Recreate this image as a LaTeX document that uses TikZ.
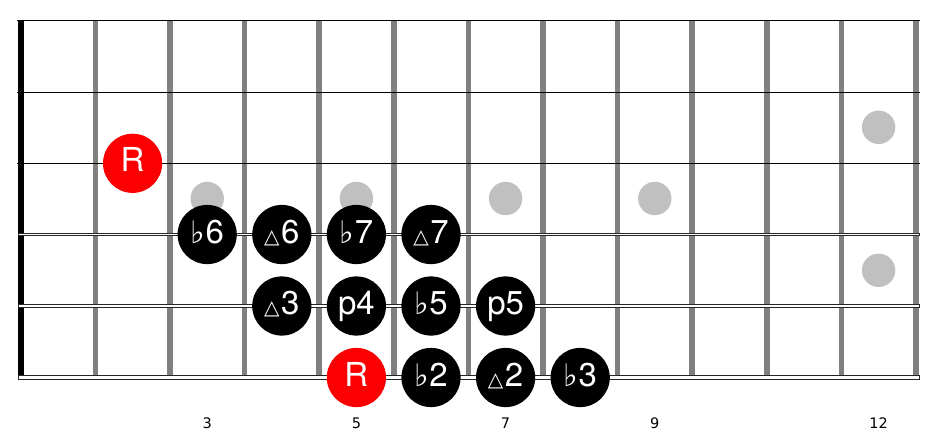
\documentclass[tikz,border=0pt]{standalone}
\usepackage{fontspec}
\setmainfont{TeX Gyre Heros}
\newfontfamily\symfont{DejaVu Sans}
\newcommand\fl{{\symfont\fontsize{31}{31}\selectfont ♭}\kern0.5pt}
\newcommand\tri{{\symfont\fontsize{20}{20}\selectfont △}\kern1.5pt}
\definecolor{fretgray}{RGB}{128,128,128}
\definecolor{dotgray}{RGB}{192,192,192}
\definecolor{rootred}{RGB}{250,0,0}
\tikzset{
  fretline/.style={draw=fretgray, line width=5.6pt},
  plainstring/.style={draw=black, line width=1.2pt},
  woundstring/.style={draw=black!85, fill=white, line width=0.9pt},
  inlay/.style={circle, fill=dotgray, minimum size=33.4pt, inner sep=0pt},
  note/.style={circle, fill=black, text=white, minimum size=59.2pt, inner sep=0pt,
    font=\fontsize{33}{33}\selectfont, text height=24pt, text depth=7pt},
  rootnote/.style={note, fill=rootred},
  fretnum/.style={font=\symfont\fontsize{14.5}{14.5}\selectfont, inner sep=0pt}
}
\begin{document}
\begin{tikzpicture}[x=1pt,y=-1pt]
\useasboundingbox (0,0) rectangle (936,444);
% frets
\foreach \xx in {95.3,169.9,244.5,319.1,393.7,468.3,542.9,617.5,692.1,766.7,841.3,915.9}
  \draw[fretline] (\xx,20.3) -- (\xx,375.5);
% nut
\fill[black] (18,20) rectangle (24,375.5);
% inlays
\node[inlay] (d3) at (207.2,198.5) {};
\node[inlay] (d5) at (356.4,198.5) {};
\node[inlay] (d7) at (505.6,198.5) {};
\node[inlay] (d9) at (654.8,198.5) {};
\node[inlay] (d12a) at (878.6,127.3) {};
\node[inlay] (d12b) at (878.6,270.3) {};
% strings
\draw[plainstring] (17.4,20.3) -- (919.5,20.3);
\draw[plainstring] (17.4,92.3) -- (919.5,92.3);
\draw[plainstring] (17.4,163.3) -- (919.5,163.3);
\draw[woundstring] (18.3,233.6) rectangle (919,235.4);
\draw[woundstring] (18.3,304.8) rectangle (919,307.2);
\draw[woundstring] (18.3,375.4) rectangle (919,379.2);
% notes
\node[rootnote] (r1) at (132.6,163.3) {R};
\node[note] (a1) at (207.2,234.5) {\fl6};
\node[note] (a2) at (281.8,234.5) {\tri6};
\node[note] (a3) at (356.4,234.5) {\fl7};
\node[note] (a4) at (431.0,234.5) {\tri7};
\node[note] (b1) at (281.8,306) {\tri3};
\node[note] (b2) at (356.4,306) {p4};
\node[note] (b3) at (431.0,306) {\fl5};
\node[note] (b4) at (505.6,306) {p5};
\node[rootnote] (r2) at (356.4,377.5) {R};
\node[note] (c1) at (431.0,377.5) {\fl2};
\node[note] (c2) at (505.6,377.5) {\tri2};
\node[note] (c3) at (580.2,377.5) {\fl3};
% fret numbers
\node[fretnum] (f3) at (207.2,423) {3};
\node[fretnum] (f5) at (356.4,423) {5};
\node[fretnum] (f7) at (505.6,423) {7};
\node[fretnum] (f9) at (654.8,423) {9};
\node[fretnum] (f12) at (878.6,423) {12};
\end{tikzpicture}
\end{document}
